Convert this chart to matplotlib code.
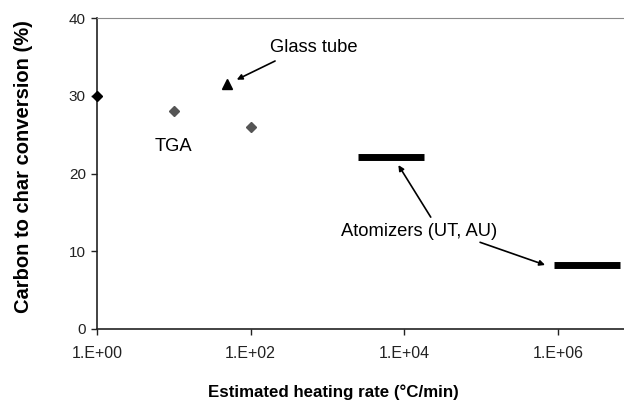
import math
import matplotlib
matplotlib.use("Agg")
import matplotlib.pyplot as plt
from matplotlib.ticker import FixedLocator, FuncFormatter, NullLocator

plt.rcParams['font.family'] = ['Liberation Sans', 'DejaVu Sans']

# data
tga_rate = [1, 10, 100]
tga_conv = [30, 28, 26]
glass_rate = [50]
glass_conv = [31.6]
atom_rate_lo = [2500, 9.0e5]
atom_rate_hi = [18000, 6.5e6]
atom_conv = [22.1, 8.3]
x_ticks = [1e0, 1e2, 1e4, 1e6]
y_ticks = [0, 10, 20, 30, 40]

fig = plt.figure(figsize=(6.24, 4.01), dpi=100)
ax = fig.add_axes([0.1554, 0.1796, 0.8446, 0.7748])

# TGA points (first one black, on the axis)
ax.plot(tga_rate[:1], tga_conv[:1], 'D', color='black', markersize=5.5, clip_on=False, zorder=5)
ax.plot(tga_rate[1:], tga_conv[1:], 'D', color='#555555', markersize=5.5, zorder=5)
ax.plot(glass_rate, glass_conv, '^', color='black', markersize=7.5, zorder=5)

# atomizer ranges drawn as thick bars
for lo, hi, c in zip(atom_rate_lo, atom_rate_hi, atom_conv):
    ax.plot([lo, hi], [c, c], color='black', linewidth=5, solid_capstyle='butt', clip_on=False)

ax.set_xscale('log')
ax.set_xlim(1, 10 ** 6.86)
ax.set_ylim(0, 40)
ax.xaxis.set_major_locator(FixedLocator(x_ticks))
ax.xaxis.set_minor_locator(NullLocator())
ax.xaxis.set_major_formatter(FuncFormatter(lambda v, p: "1.E+%02d" % round(math.log10(v))))
ax.set_yticks(y_ticks)

ax.spines['right'].set_visible(False)
ax.spines['top'].set_color('#8a8a8a')
ax.spines['left'].set_color('#222222')
ax.spines['bottom'].set_color('#222222')
ax.spines['left'].set_linewidth(1.2)
ax.spines['bottom'].set_linewidth(1.2)
ax.tick_params(axis='both', direction='out', length=4, width=1, colors='#222222')
ax.tick_params(axis='x', pad=8, labelsize=11.5)
ax.tick_params(axis='y', pad=4, labelsize=11)

ax.set_xlabel("Estimated heating rate (°C/min)", fontsize=12.2, fontweight='bold')
ax.set_ylabel("Carbon to char conversion (%)", fontsize=14.5, fontweight='bold')
ax.xaxis.set_label_coords(0.449, -0.180)
ax.yaxis.set_label_coords(-0.122, 0.523)

arrow = dict(arrowstyle='-|>', color='black', lw=1.2, mutation_scale=8, shrinkA=0, shrinkB=0)
ax.text(660, 35.65, "Glass tube", fontsize=13.2, ha='center', va='baseline')
ax.annotate("", xy=(66, 32.1), xytext=(208, 34.5), arrowprops=arrow)
ax.text(10, 22.95, "TGA", fontsize=13.2, ha='center', va='baseline')
ax.text(1490, 11.97, "Atomizers (UT, AU)", fontsize=13.2, ha='left', va='baseline')
ax.annotate("", xy=(8380, 21.1), xytext=(22100, 14.4), arrowprops=arrow)
ax.annotate("", xy=(6.8e5, 8.24), xytext=(9.7e4, 11.16), arrowprops=arrow)

fig.savefig("out.png", dpi=100)
